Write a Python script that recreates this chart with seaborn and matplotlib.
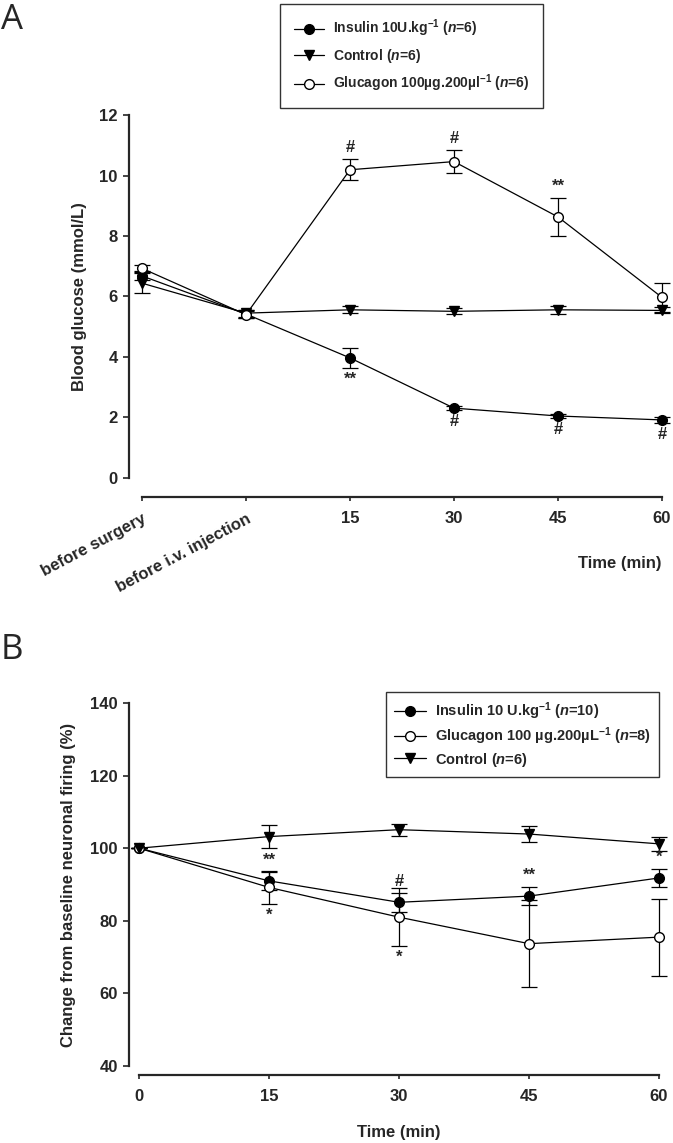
import numpy as np
import matplotlib
matplotlib.use("Agg")
import matplotlib.pyplot as plt
import seaborn as sns

# ---------------- data ----------------
# Panel A: blood glucose (mmol/L)
A_labels = ["before surgery", "before i.v. injection", "15", "30", "45", "60"]
A_insulin = [6.68, 5.42, 3.97, 2.31, 2.05, 1.92]
A_insulin_err = [0.12, 0.12, 0.32, 0.07, 0.06, 0.10]
A_control = [6.44, 5.45, 5.56, 5.51, 5.56, 5.54]
A_control_err = [0.33, 0.12, 0.12, 0.10, 0.13, 0.10]
A_glucagon = [6.93, 5.40, 10.19, 10.46, 8.63, 5.97]
A_glucagon_err = [0.10, 0.12, 0.35, 0.37, 0.62, 0.47]
A_insulin_sig = ["", "", "**", "#", "#", "#"]
A_glucagon_sig = ["", "", "#", "#", "**", ""]

# Panel B: change from baseline neuronal firing (%)
B_time = [0, 15, 30, 45, 60]
B_insulin = [100.0, 91.0, 85.1, 86.8, 91.8]
B_insulin_err = [0.0, 2.5, 2.6, 2.5, 2.5]
B_glucagon = [100.0, 89.2, 81.0, 73.7, 75.5]
B_glucagon_err = [0.0, 4.5, 7.9, 12.0, 10.6]
B_control = [100.0, 103.2, 105.1, 103.9, 101.2]
B_control_err = [0.0, 3.2, 1.7, 2.2, 1.9]
B_insulin_sig = ["", "**", "#", "**", "*"]
B_glucagon_sig = ["", "*", "*", "", ""]

# ---------------- style ----------------
sns.set_theme(style="ticks")
plt.rcParams["font.family"] = ["Liberation Sans", "DejaVu Sans"]
plt.rcParams["font.weight"] = "bold"
plt.rcParams["mathtext.fontset"] = "custom"
plt.rcParams["mathtext.rm"] = "Liberation Sans:bold"
plt.rcParams["mathtext.it"] = "Liberation Sans:italic:bold"
plt.rcParams["mathtext.bf"] = "Liberation Sans:bold"
plt.rcParams["axes.linewidth"] = 1.6
plt.rcParams["xtick.major.width"] = 1.2
plt.rcParams["ytick.major.width"] = 1.2
plt.rcParams["xtick.major.size"] = 3
plt.rcParams["ytick.major.size"] = 4
plt.rcParams["xtick.major.pad"] = 7
plt.rcParams["ytick.major.pad"] = 4
plt.rcParams["xtick.labelsize"] = 12
plt.rcParams["ytick.labelsize"] = 12

W, H = 673, 1143
fig = plt.figure(figsize=(W / 100, H / 100), dpi=100)

def px_axes(x0, x1, y0, y1):
    return fig.add_axes([x0 / W, 1 - y1 / H, (x1 - x0) / W, (y1 - y0) / H])

MS = 7.0
LW = 0.9

def series(ax, x, y, err, marker, face, label):
    ax.errorbar(x, y, yerr=err, fmt="none", ecolor="black", elinewidth=LW,
                capsize=5.5, capthick=LW, zorder=2, clip_on=False)
    sns.lineplot(x=x, y=y, ax=ax, color="black", linewidth=LW, marker=marker,
                 markersize=MS, markerfacecolor=face, markeredgecolor="black",
                 markeredgewidth=1.0, label=label, clip_on=False, zorder=3,
                 legend=False)
    return ax.lines[-1]

def sig(ax, x, y, err, marks, above):
    for xi, yi, ei, m in zip(x, y, err, marks):
        if not m:
            continue
        if above:
            ax.annotate(m, (xi, yi + ei), xytext=(0, 3), textcoords="offset points",
                        ha="center", va="bottom", fontsize=12, fontweight="bold")
        else:
            ax.annotate(m, (xi, yi - ei), xytext=(0, -3), textcoords="offset points",
                        ha="center", va="top", fontsize=12, fontweight="bold")

# ---------------- Panel A ----------------
axA = px_axes(142, 662, 115, 478)
xA = np.arange(len(A_labels))
hA_ins = series(axA, xA, A_insulin, A_insulin_err, "o", "black",
                r"Insulin 10U.kg$^{-1}$ ($n$=6)")
hA_ctl = series(axA, xA, A_control, A_control_err, "v", "black",
                r"Control ($n$=6)")
hA_glu = series(axA, xA, A_glucagon, A_glucagon_err, "o", "white",
                r"Glucagon 100µg.200µl$^{-1}$ ($n$=6)")
sig(axA, xA, A_insulin, A_insulin_err, A_insulin_sig, above=False)
sig(axA, xA, A_glucagon, A_glucagon_err, A_glucagon_sig, above=True)

axA.set_xlim(0, len(A_labels) - 1)
axA.set_ylim(0, 12)
sns.despine(ax=axA)
axA.spines["left"].set_position(("outward", 9.4))
axA.spines["bottom"].set_position(("outward", 13.7))
axA.set_yticks(np.arange(0, 13, 2))
axA.set_xticks(xA)
axA.set_xticklabels(A_labels)
for i, t in enumerate(axA.get_xticklabels()):
    t.set_fontweight("bold")
    if i < 2:
        t.set_rotation(28)
        t.set_ha("right")
        t.set_va("top")
        t.set_rotation_mode("anchor")
for t in axA.get_yticklabels():
    t.set_fontweight("bold")
axA.set_ylabel("Blood glucose (mmol/L)", fontsize=12, fontweight="bold", labelpad=9)
axA.text(1.0, -0.235, "Time (min)", transform=axA.transAxes, ha="right", va="center",
         fontsize=12, fontweight="bold")

legA = fig.legend(handles=[hA_ins, hA_ctl, hA_glu], loc="upper left",
                  bbox_to_anchor=(280 / W, 1 - 4 / H), borderaxespad=0,
                  frameon=True, fancybox=False, edgecolor="black", fontsize=10,
                  handlelength=2.2, borderpad=1.0, labelspacing=0.55, handletextpad=0.6)
legA.get_frame().set_linewidth(1.0)
for t in legA.get_texts():
    t.set_fontweight("bold")

# ---------------- Panel B ----------------
axB = px_axes(139, 659, 703, 1066)
hB_ins = series(axB, B_time, B_insulin, B_insulin_err, "o", "black",
                r"Insulin 10 U.kg$^{-1}$ ($n$=10)")
hB_glu = series(axB, B_time, B_glucagon, B_glucagon_err, "o", "white",
                r"Glucagon 100 µg.200µL$^{-1}$ ($n$=8)")
hB_ctl = series(axB, B_time, B_control, B_control_err, "v", "black",
                r"Control ($n$=6)")
sig(axB, B_time, B_insulin, B_insulin_err, B_insulin_sig, above=True)
sig(axB, B_time, B_glucagon, B_glucagon_err, B_glucagon_sig, above=False)

axB.set_xlim(0, 60)
axB.set_ylim(40, 140)
sns.despine(ax=axB)
axB.spines["left"].set_position(("outward", 7.2))
axB.spines["bottom"].set_position(("outward", 6.5))
axB.set_xticks(B_time)
axB.set_yticks(np.arange(40, 141, 20))
for t in axB.get_xticklabels() + axB.get_yticklabels():
    t.set_fontweight("bold")
axB.set_ylabel("Change from baseline neuronal firing (%)", fontsize=12,
               fontweight="bold", labelpad=10)
axB.set_xlabel("Time (min)", fontsize=12, fontweight="bold", labelpad=15)

legB = axB.legend(handles=[hB_ins, hB_glu, hB_ctl], loc="upper right",
                  bbox_to_anchor=(659 / W, 1 - 692 / H), bbox_transform=fig.transFigure,
                  borderaxespad=0, frameon=True, fancybox=False, edgecolor="black",
                  fontsize=10.5, handlelength=2.2, borderpad=0.55, labelspacing=0.25,
                  handletextpad=0.6)
legB.get_frame().set_linewidth(1.0)
for t in legB.get_texts():
    t.set_fontweight("bold")

# panel letters
fig.text(12 / W, 1 - 20 / H, "A", fontsize=25, family=["Open Sans", "DejaVu Sans"],
         fontweight="normal", ha="center", va="center")
fig.text(12 / W, 1 - 650 / H, "B", fontsize=25, family=["Open Sans", "DejaVu Sans"],
         fontweight="normal", ha="center", va="center")

fig.savefig("out.png", dpi=100)
